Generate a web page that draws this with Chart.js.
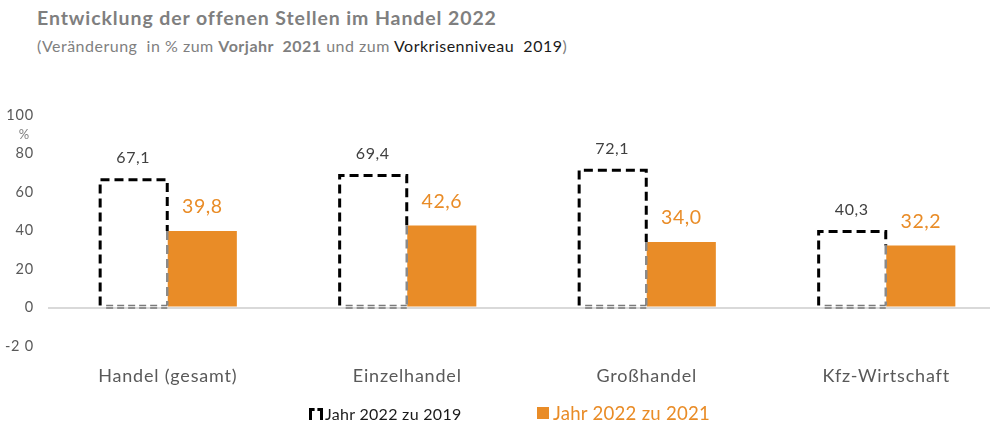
<!DOCTYPE html>
<html>
<head>
<meta charset="utf-8">
<script src="https://cdn.jsdelivr.net/npm/chart.js@4/dist/chart.umd.min.js"></script>
<style>
  html, body { margin:0; padding:0; background:#fff; overflow:hidden; width:990px; height:425px; }
  body { font-family: Lato, "Open Sans", sans-serif; position:relative; }
  #wrap { position:absolute; left:0; top:0; width:1006px; height:425px; }
  #title { position:absolute; left:37px; top:6px; font-size:19.5px; font-weight:bold; color:#7f7f7f; white-space:nowrap; letter-spacing:0.9px; }
  #sub { position:absolute; left:37px; top:36px; font-size:16px; color:#7f7f7f; white-space:nowrap; letter-spacing:0.5px; }
  #sub b { color:#7f7f7f; }
  #sub .blk { color:#1a1a1a; }
  #legend { position:absolute; top:402px; left:0; width:990px; height:24px; white-space:nowrap; }
  .ic1 { position:absolute; left:309px; top:6px; width:8px; height:9px; border-top:3px dashed #000; border-left:3px solid #000; border-right:3px solid #000; }
  .t1 { position:absolute; left:325px; top:2px; font-size:16px; color:#1a1a1a; letter-spacing:0.3px; }
  .ic2 { position:absolute; left:537px; top:5px; width:12px; height:12px; background:#E98C27; }
  .t2 { position:absolute; left:553px; top:0px; font-size:18.6px; color:#E98C27; letter-spacing:0.25px; }
</style>
</head>
<body>
<div id="title">Entwicklung der offenen Stellen im Handel 2022</div>
<div id="sub">(Veränderung&nbsp; in % zum <b>Vorjahr&nbsp; 2021</b> und zum <span class="blk">Vorkrisenniveau&nbsp; 2019</span>)</div>
<div id="wrap"><canvas id="c"></canvas></div>
<div id="legend">
  <div class="ic1"></div><div class="t1">Jahr 2022 zu 2019</div>
  <div class="ic2"></div><div class="t2">Jahr 2022 zu 2021</div>
</div>
<script>
const categories = ["Handel (gesamt)", "Einzelhandel", "Großhandel", "Kfz-Wirtschaft"];
const vs2019 = [67.1, 69.4, 72.1, 40.3];
const vs2021 = [39.8, 42.6, 34.0, 32.2];
const yTicks = [-20, 0, 20, 40, 60, 80, 100];
const seriesNames = ["Jahr 2022 zu 2019", "Jahr 2022 zu 2021"];

const ORANGE = '#E98C27';
const FONT = 'Lato, "Open Sans", sans-serif';
const fmt = v => v.toFixed(1).replace('.', ',');

const dashedBars = {
  id: 'dashedBars',
  afterDatasetsDraw(chart) {
    const ctx = chart.ctx;
    const m0 = chart.getDatasetMeta(0), m1 = chart.getDatasetMeta(1);
    m0.data.forEach((el, i) => {
      const l = el.x - el.width / 2 + 1.5, r = el.x + el.width / 2 - 0.5;
      const t = el.y + 1.5, b = el.base;
      const oTop = m1.data[i] ? m1.data[i].y : b;
      ctx.save();
      ctx.lineWidth = 3;
      ctx.setLineDash([9, 5]);
      ctx.strokeStyle = '#000';
      ctx.beginPath();
      ctx.moveTo(l, b - 1); ctx.lineTo(l, t); ctx.lineTo(r, t); ctx.lineTo(r, oTop);
      ctx.stroke();
      ctx.strokeStyle = '#8a8a8a';
      ctx.lineWidth = 2.5;
      ctx.beginPath(); ctx.moveTo(r, oTop); ctx.lineTo(r, b - 1); ctx.stroke();
      ctx.lineWidth = 1.5;
      ctx.setLineDash([7, 4]);
      ctx.strokeStyle = '#7a7a7a';
      ctx.beginPath(); ctx.moveTo(l + 6, b - 1); ctx.lineTo(r, b - 1); ctx.stroke();
      ctx.beginPath(); ctx.moveTo(l + 6, b + 1.5); ctx.lineTo(r, b + 1.5); ctx.stroke();
      ctx.restore();
    });
  }
};

const valueLabels = {
  id: 'valueLabels',
  afterDatasetsDraw(chart) {
    const ctx = chart.ctx;
    ctx.save();
    ctx.textAlign = 'center';
    ctx.textBaseline = 'middle';
    ctx.letterSpacing = '0.6px';
    chart.getDatasetMeta(0).data.forEach((el, i) => {
      ctx.font = '16px ' + FONT;
      ctx.fillStyle = '#404040';
      ctx.fillText(fmt(vs2019[i]), el.x, el.y - 20);
    });
    ctx.letterSpacing = '0.5px';
    chart.getDatasetMeta(1).data.forEach((el, i) => {
      ctx.font = '19.5px ' + FONT;
      ctx.fillStyle = ORANGE;
      ctx.fillText(fmt(vs2021[i]), el.x, el.y - 24);
    });
    ctx.letterSpacing = '0px';
    const ys = chart.scales.y;
    ctx.font = '13px ' + FONT;
    ctx.fillStyle = '#7f7f7f';
    ctx.fillText('%', 24, ys.getPixelForValue(100) + 20);
    ctx.restore();
  }
};

const tickSpacing = {
  id: 'tickSpacing',
  beforeDraw(chart) { chart.ctx.letterSpacing = '0.8px'; },
  beforeDatasetsDraw(chart) { chart.ctx.letterSpacing = '0px'; }
};

new Chart(document.getElementById('c'), {
  type: 'bar',
  data: {
    labels: categories,
    datasets: [
      { label: seriesNames[0], data: vs2019, backgroundColor: 'rgba(0,0,0,0)', borderWidth: 0 },
      { label: seriesNames[1], data: vs2021, backgroundColor: ORANGE, borderWidth: 0 }
    ]
  },
  options: {
    responsive: true,
    maintainAspectRatio: false,
    animation: false,
    categoryPercentage: 0.577,
    barPercentage: 1.0,
    layout: { padding: { top: 115, bottom: 39, left: 0, right: 0 } },
    plugins: { legend: { display: false }, tooltip: { enabled: false }, title: { display: false } },
    scales: {
      x: {
        grid: { display: false, drawTicks: false },
        border: { display: false },
        ticks: { color: '#595959', font: { family: FONT, size: 18 }, padding: 19, maxRotation: 0 },
        afterFit(s) { s.height = 40; }
      },
      y: {
        min: -20, max: 100,
        afterBuildTicks(s) { s.ticks = yTicks.map(v => ({ value: v })); },
        grid: {
          drawTicks: false,
          color: c => (c.tick && c.tick.value === 0) ? '#d9d9d9' : 'rgba(0,0,0,0)',
          lineWidth: c => (c.tick && c.tick.value === 0) ? 2 : 0
        },
        border: { display: false },
        ticks: { color: '#595959', font: { family: FONT, size: 14.5 }, padding: 14,
                 callback: v => v === -20 ? '-2 0' : String(v) },
        afterFit(s) { s.width = 48; }
      }
    }
  },
  plugins: [tickSpacing, dashedBars, valueLabels]
});
</script>
</body>
</html>
